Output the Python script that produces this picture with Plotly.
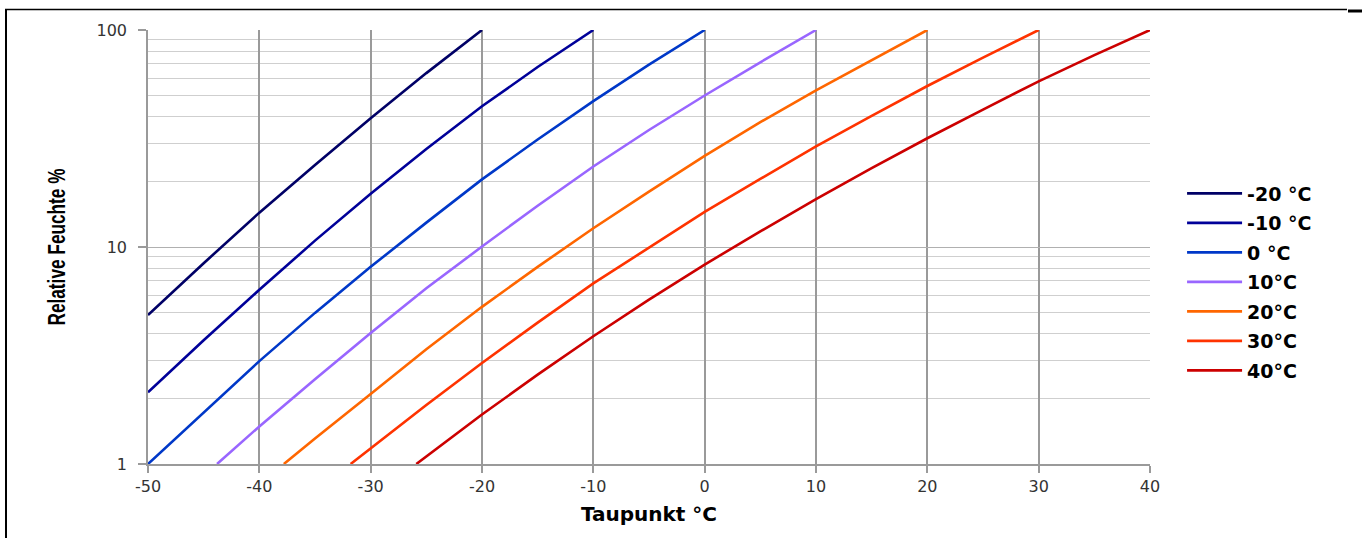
import plotly.graph_objects as go

# Air temperature series (legend labels)
series_names = ["-20 °C", "-10 °C", "0 °C", "10°C", "20°C", "30°C", "40°C"]
series_colors = ["#000066", "#000099", "#0038C8", "#9966FF", "#FF6600", "#FF3300", "#CC0000"]

# Dew point (°C) and relative humidity (%)
dew_m20 = [-50, -45, -40, -35, -30, -25, -20]
rh_m20 = [4.86, 8.42, 14.4, 23.9, 39.2, 63.3, 100]

dew_m10 = [-50, -45, -40, -35, -30, -25, -20, -15, -10]
rh_m10 = [2.14, 3.72, 6.35, 10.7, 17.6, 28.3, 44.5, 67.5, 100]

dew_0 = [-50, -45, -40, -35, -30, -25, -20, -15, -10, -5, 0]
rh_0 = [1.0, 1.73, 2.98, 4.97, 8.1, 12.95, 20.5, 31.3, 47.0, 69.3, 100]

dew_10 = [-43.8, -40, -35, -30, -25, -20, -15, -10, -5, 0, 5, 10]
rh_10 = [1.0, 1.49, 2.46, 4.02, 6.45, 10.05, 15.5, 23.5, 34.6, 49.9, 71.0, 100]

dew_20 = [-37.8, -35, -30, -25, -20, -15, -10, -5, 0, 5, 10, 15, 20]
rh_20 = [1.0, 1.31, 2.1, 3.38, 5.3, 8.1, 12.2, 18.0, 26.3, 37.6, 52.7, 72.6, 100]

dew_30 = [-31.8, -30, -25, -20, -15, -10, -5, 0, 5, 10, 15, 20, 25, 30]
rh_30 = [1.0, 1.18, 1.87, 2.92, 4.48, 6.8, 9.97, 14.5, 20.6, 29.1, 40.2, 55.2, 74.6, 100]

dew_40 = [-25.9, -20, -15, -10, -5, 0, 5, 10, 15, 20, 25, 30, 35, 40]
rh_40 = [1.0, 1.69, 2.58, 3.88, 5.72, 8.3, 11.8, 16.6, 23.1, 31.7, 43.0, 58.0, 76.6, 100]

x_ticks = [-50, -40, -30, -20, -10, 0, 10, 20, 30, 40]
x_tick_text = ["-50", "-40", "-30", "-20", "-10", "0", "10", "20", "30", "40"]
y_ticks = [1, 10, 100]
y_tick_text = ["1", "10", "100"]
y_minor = [2, 3, 4, 5, 6, 7, 8, 9, 20, 30, 40, 50, 60, 70, 80, 90]

xs = [dew_m20, dew_m10, dew_0, dew_10, dew_20, dew_30, dew_40]
ys = [rh_m20, rh_m10, rh_0, rh_10, rh_20, rh_30, rh_40]

fig = go.Figure()
for i, (name, color, x, y) in enumerate(zip(series_names, series_colors, xs, ys)):
    fig.add_trace(go.Scatter(
        x=x, y=y, mode="lines", name=name, legendgroup=f"g{i}",
        line=dict(color=color, width=2.6),
    ))

fig.update_layout(
    width=1362, height=538,
    margin=dict(l=148, r=212, t=30, b=74),
    paper_bgcolor="white", plot_bgcolor="white",
    showlegend=True,
    legend=dict(
        x=1.032, y=0.667, xanchor="left", yanchor="top",
        font=dict(family="DejaVu Sans", size=19, color="#000000", weight="bold"),
        tracegroupgap=1.8, bgcolor="rgba(0,0,0,0)", itemwidth=55,
    ),
    xaxis=dict(
        range=[-50, 40], tickvals=x_ticks, ticktext=x_tick_text,
        showgrid=True, gridcolor="#9a9a9a", gridwidth=1.5,
        showline=True, linecolor="#9a9a9a", linewidth=1.5,
        ticks="outside", ticklen=7, tickcolor="#9a9a9a", tickwidth=1.5,
        zeroline=False,
        tickfont=dict(family="DejaVu Sans", size=16, color="#333333"),
        title=dict(text="Taupunkt °C", standoff=12,
                   font=dict(family="DejaVu Sans", size=20, color="#000000", weight="bold")),
    ),
    yaxis=dict(
        type="log", range=[0, 2], tickvals=y_ticks, ticktext=y_tick_text,
        showgrid=True, gridcolor="#b0b0b0", gridwidth=1.2,
        showline=True, linecolor="#9a9a9a", linewidth=1.5,
        ticks="outside", ticklen=8, tickcolor="#9a9a9a", tickwidth=1.5,
        zeroline=False, ticklabelstandoff=8,
        tickfont=dict(family="DejaVu Sans", size=16, color="#333333"),
        minor=dict(tickvals=y_minor, showgrid=True, gridcolor="#cfcfcf", gridwidth=1, ticks=""),
        title=dict(text="Relative Feuchte %", standoff=24,
                   font=dict(family="Liberation Sans, Arial, sans-serif",
                             size=23, color="#000000", weight="bold")),
    ),
)

# Outer frame fragments (paper coordinates)
def px_x(p):
    return (p - 148) / 1002.0

def px_y(p):
    return (464 - p) / 434.0

fig.add_shape(type="line", xref="paper", yref="paper",
              x0=px_x(6), x1=px_x(6), y0=px_y(9), y1=px_y(540),
              line=dict(color="black", width=2))
fig.add_shape(type="line", xref="paper", yref="paper",
              x0=px_x(5), x1=px_x(1347), y0=px_y(9.5), y1=px_y(9.5),
              line=dict(color="black", width=1.5))
fig.add_shape(type="line", xref="paper", yref="paper",
              x0=px_x(1348), x1=px_x(1362), y0=px_y(11), y1=px_y(11),
              line=dict(color="black", width=3))

# Compress the rotated y-axis title along its length (the source image is
# horizontally stretched, so the title looks tall and condensed).
post_js = """
document.body.style.margin='0';
document.body.style.overflow='hidden';
function squeezeYTitle(){
  try {
    var t = document.querySelector('.g-ytitle text');
    if (!t || t.getAttribute('data-sq')) return;
    var y = parseFloat(t.getAttribute('y'));
    var tr = t.getAttribute('transform') || '';
    var s = 0.75;
    t.setAttribute('transform', 'translate(0,' + y + ') scale(1,' + s + ') translate(0,' + (-y) + ') ' + tr);
    t.setAttribute('data-sq', '1');
  } catch (e) {}
}
squeezeYTitle();
setTimeout(squeezeYTitle, 0);
"""

fig.write_html("out.html", config={"displayModeBar": False}, post_script=post_js)
